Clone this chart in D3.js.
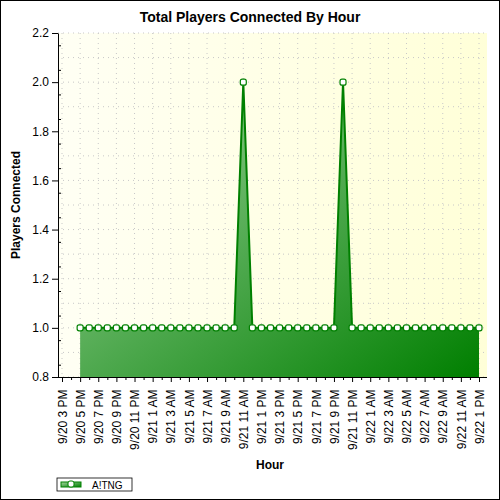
<!DOCTYPE html>
<html><head><meta charset="utf-8">
<script src="https://cdn.jsdelivr.net/npm/d3@7"></script>
<style>body{margin:0;background:#fff}</style>
</head><body><svg width="500" height="500"></svg>
<script>
// hourly samples starting 9/20 5 PM
const startHour = new Date(2023, 8, 20, 17);
const players = [1,1,1,1,1,1,1,1,1,1,1,1,1,1,1,1,1,1,2,1,1,1,1,1,1,1,1,1,1,2,1,1,1,1,1,1,1,1,1,1,1,1,1,1,1];
const yTicks = [0.8,1.0,1.2,1.4,1.6,1.8,2.0,2.2];
const seriesName = 'A!TNG';

const data = players.map((v, i) => ({t: d3.timeHour.offset(startHour, i), v}));
const svg = d3.select('svg');
const W = 500, H = 500;
svg.append('rect').attr('x',0.5).attr('y',0.5).attr('width',W-1).attr('height',H-1).attr('fill','#fff').attr('stroke','#000');

const plot = {left: 58, right: 487, top: 33, bottom: 377};
const axisStart = new Date(2023, 8, 20, 15);
const x = d3.scaleTime()
  .domain([axisStart, new Date(2023, 8, 22, 13)])
  .range([62, 479]);
const y = d3.scaleLinear().domain([0.8, 2.2]).range([plot.bottom, plot.top]);

const defs = svg.append('defs');
const bg = defs.append('linearGradient').attr('id','bg').attr('x1','0').attr('y1','0').attr('x2','1').attr('y2','0');
bg.append('stop').attr('offset','0').attr('stop-color','#fffff4');
bg.append('stop').attr('offset','1').attr('stop-color','#ffffd8');
const gf = defs.append('linearGradient').attr('id','gf').attr('x1','0').attr('y1','0').attr('x2','1').attr('y2','1');
gf.append('stop').attr('offset','0').attr('stop-color','#a6d6a0');
gf.append('stop').attr('offset','0.5').attr('stop-color','#4fa94f');
gf.append('stop').attr('offset','1').attr('stop-color','#007f00');

svg.append('rect').attr('x',plot.left).attr('y',plot.top)
  .attr('width',plot.right-plot.left).attr('height',plot.bottom-plot.top).attr('fill','url(#bg)');

// grid, labels every 2 hours from 3 PM
const hours = d3.range(0, 47, 2).map(h => d3.timeHour.offset(axisStart, h));
svg.append('g').selectAll('line').data(hours).join('line')
  .attr('x1', d => x(d)).attr('x2', d => x(d)).attr('y1', plot.top).attr('y2', plot.bottom)
  .attr('stroke','#c8c8c8').attr('stroke-dasharray','1,4');
svg.append('g').selectAll('line').data(d3.range(0.8, 2.21, 0.1)).join('line')
  .attr('x1', plot.left).attr('x2', plot.right).attr('y1', d => y(d)).attr('y2', d => y(d))
  .attr('stroke','#c8c8c8').attr('stroke-dasharray','1,4');

// area + line
svg.append('path').datum(data)
  .attr('d', d3.area().x(d => x(d.t)).y0(y(0.8)).y1(d => y(d.v)))
  .attr('fill','url(#gf)');
svg.append('path').datum(data)
  .attr('d', d3.line().x(d => x(d.t)).y(d => y(d.v)))
  .attr('fill','none').attr('stroke','#008000').attr('stroke-width',2);
svg.append('g').selectAll('rect').data(data).join('rect')
  .attr('x', d => x(d.t)-3).attr('y', d => y(d.v)-3).attr('width',6).attr('height',6).attr('rx',2)
  .attr('fill','#fff').attr('stroke','#008000').attr('stroke-width',1.2);

// axes
const yAxis = svg.append('g').attr('transform',`translate(${plot.left},0)`)
  .call(d3.axisLeft(y).tickValues(yTicks).tickFormat(d3.format('.1f')).tickSize(6).tickSizeOuter(0));
svg.append('g').attr('transform',`translate(${plot.left},0)`)
  .call(d3.axisRight(y).tickValues(d3.range(0.85, 2.2, 0.1)).tickFormat('').tickSize(3).tickSizeOuter(0))
  .select('.domain').remove();
yAxis.selectAll('text').attr('font-family','Arial, Liberation Sans').attr('font-size',12).attr('fill','#000');

const xAxis = svg.append('g').attr('transform',`translate(0,${plot.bottom})`)
  .call(d3.axisBottom(x).tickValues(hours).tickSize(5).tickSizeOuter(0)
    .tickFormat(d => `${d.getMonth()+1}/${d.getDate()} ${d.getHours()%12||12} ${d.getHours()<12?'AM':'PM'}`));
xAxis.select('.domain').attr('d', `M${plot.left},0.5H${plot.right}`);
xAxis.selectAll('text').attr('font-family','Arial, Liberation Sans').attr('font-size',12).attr('fill','#000')
  .attr('transform','rotate(-90)').attr('text-anchor','end').attr('dx','-0.7em').attr('dy','0.35em').attr('y',0).attr('x',-4);
svg.append('g').attr('transform',`translate(0,${plot.bottom})`)
  .call(d3.axisBottom(x).tickValues(d3.range(1, 47, 2).map(h => d3.timeHour.offset(axisStart, h))).tickFormat('').tickSize(3).tickSizeOuter(0))
  .select('.domain').remove();

// titles
svg.append('text').attr('x',W/2).attr('y',22).attr('text-anchor','middle')
  .attr('font-family','Arial, Liberation Sans').attr('font-weight','bold').attr('font-size',14).text('Total Players Connected By Hour');
svg.append('text').attr('x',270).attr('y',469).attr('text-anchor','middle')
  .attr('font-family','Arial, Liberation Sans').attr('font-weight','bold').attr('font-size',12).text('Hour');
svg.append('text').attr('transform','translate(20,205) rotate(-90)').attr('text-anchor','middle')
  .attr('font-family','Arial, Liberation Sans').attr('font-weight','bold').attr('font-size',12).text('Players Connected');

// legend
const lg = svg.append('g');
lg.append('rect').attr('x',57).attr('y',478).attr('width',75).attr('height',13).attr('fill','#fff').attr('stroke','#000').attr('stroke-width',0.8);
lg.append('rect').attr('x',61).attr('y',482).attr('width',20).attr('height',5).attr('fill','url(#gf)').attr('stroke','#008000');
lg.append('rect').attr('x',68).attr('y',481).attr('width',6).attr('height',6).attr('rx',2).attr('fill','#fff').attr('stroke','#008000');
lg.append('text').attr('x',92).attr('y',488.5).attr('font-family','Arial, Liberation Sans').attr('font-size',10).text(seriesName);
</script></body></html>
